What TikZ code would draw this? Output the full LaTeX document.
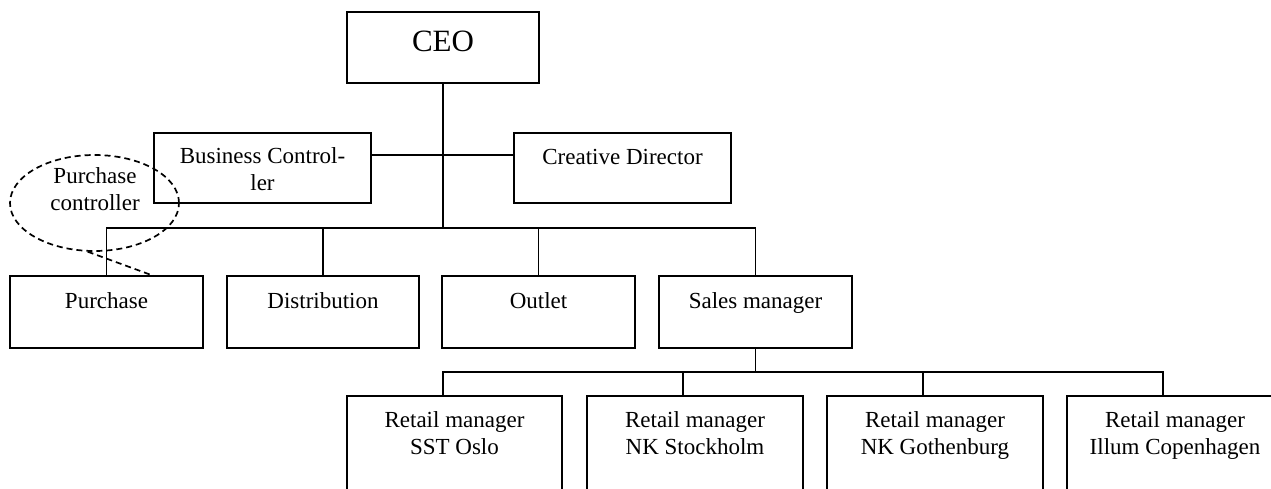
\documentclass[tikz,border=0pt]{standalone}
\usepackage{fontspec}
\setmainfont{Liberation Serif}
\usetikzlibrary{shapes.geometric}
\newcommand\bodyfont{\fontsize{23pt}{27pt}\selectfont}
\newcommand\ceofont{\fontsize{31pt}{36pt}\selectfont}
\newcommand\boxtext[4]{\parbox[t][#2][t]{#1}{\centering\rule{0pt}{#3}#4\par}}
\begin{document}
\begin{tikzpicture}[x=1pt,y=-1pt,
  orgbox/.style={draw, line width=1.9pt, inner sep=0pt, outer sep=0pt, anchor=north west, font=\bodyfont},
  link/.style={line width=1.7pt},
  calloutline/.style={line width=1.7pt, dash pattern=on 6pt off 4pt}]
\useasboundingbox (0,0) rectangle (1271,488);
\clip (0,0) rectangle (1271,488);
\node[orgbox, font=\ceofont] (ceo) at (347,12) {\boxtext{192pt}{71pt}{39pt}{CEO}};
\node[orgbox] (bc) at (154,133) {\boxtext{217pt}{70pt}{30pt}{Business Control-\\ler}};
\node[orgbox] (cd) at (514,133) {\boxtext{217pt}{70pt}{31pt}{Creative Director}};
\node[orgbox] (pur) at (10,276) {\boxtext{193pt}{72pt}{32pt}{Purchase}};
\node[orgbox] (dis) at (227,276) {\boxtext{192pt}{72pt}{32pt}{Distribution}};
\node[orgbox] (out) at (442,276) {\boxtext{193pt}{72pt}{32pt}{Outlet}};
\node[orgbox] (sal) at (659,276) {\boxtext{193pt}{72pt}{32pt}{Sales manager}};
\node[orgbox] (r1) at (347,396) {\boxtext{215pt}{130pt}{31pt}{Retail manager\\SST Oslo}};
\node[orgbox] (r2) at (587,396) {\boxtext{216pt}{130pt}{31pt}{Retail manager\\NK Stockholm}};
\node[orgbox] (r3) at (827,396) {\boxtext{216pt}{130pt}{31pt}{Retail manager\\NK Gothenburg}};
\node[orgbox] (r4) at (1067,396) {\boxtext{216pt}{130pt}{31pt}{Retail manager\\Illum Copenhagen}};
\coordinate (j1) at (443,228);
\coordinate (hl) at (443,155);
\coordinate (j2) at (755.5,372);
\draw[link] (ceo.south) -- (j1);
\draw[link] (bc.east |- hl) -- (cd.west |- hl);
\draw[link] (pur.north) |- (j1) -| (sal.north);
\draw[link] (dis.north) -- (dis.north |- j1);
\draw[link] (out.north) -- (out.north |- j1);
\draw[link] (sal.south) -- (j2);
\draw[link] ([xshift=-11.5pt]r1.north) |- (j2) -| ([xshift=-12pt]r4.north);
\draw[link] ([xshift=-12pt]r2.north) -- ([xshift=-12pt]r2.north |- j2);
\draw[link] ([xshift=-12pt]r3.north) -- ([xshift=-12pt]r3.north |- j2);
\node[draw, ellipse, calloutline, minimum width=169pt, minimum height=96pt, inner sep=0pt] (pc) at (94.5,203) {};
\node[font=\bodyfont, align=center, inner sep=0pt] (pctxt) at (95,189) {Purchase\\controller};
\coordinate (tip) at (154,276);
\draw[calloutline] (pc.262) -- (tip);
\end{tikzpicture}
\end{document}
